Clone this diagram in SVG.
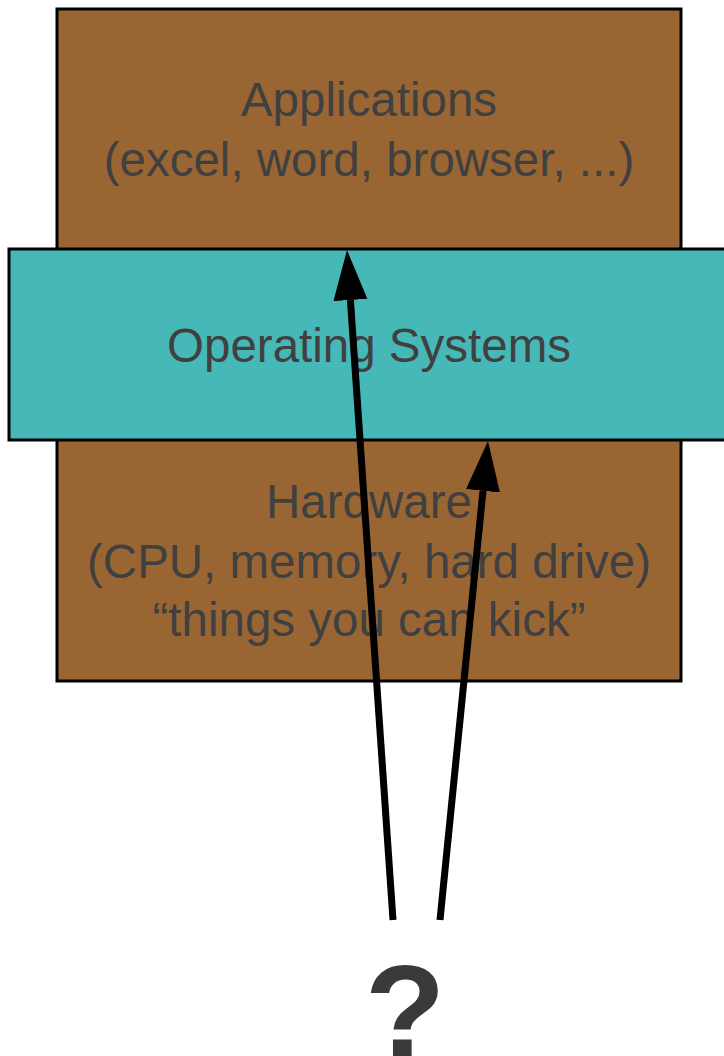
<svg xmlns="http://www.w3.org/2000/svg" width="724" height="1056" viewBox="0 0 724 1056">
<style>
.box{stroke:#000;stroke-width:3}
.brown{fill:#996633}
.teal{fill:#47b8b8}
.lbl{font-family:"Liberation Sans",Arial,sans-serif;font-size:47.5px;fill:#404040;text-anchor:middle}
.q{font-family:"Liberation Sans",Arial,sans-serif;font-size:132px;font-weight:bold;fill:#3a3a38;text-anchor:middle}
.conn{stroke:#000;stroke-width:7;fill:none}
</style>
<defs>
<marker id="ah" markerUnits="userSpaceOnUse" markerWidth="52" markerHeight="36" refX="0" refY="17" orient="auto" viewBox="0 0 52 36">
<path d="M0,0 L50,17 L0,34 z" fill="#000"/>
</marker>
</defs>
<rect width="724" height="1056" fill="#fff"/>
<g id="applications">
<rect class="box brown" x="57" y="9" width="624" height="245"/>
<text class="lbl" x="369" y="116">Applications</text>
<text class="lbl" x="369" y="176">(excel, word, browser, ...)</text>
</g>
<g id="hardware">
<rect class="box brown" x="57" y="436" width="624" height="245"/>
<text class="lbl" x="369" y="518">Hardware</text>
<text class="lbl" x="369" y="578">(CPU, memory, hard drive)</text>
<text class="lbl" x="369" y="636">“things you can kick”</text>
</g>
<g id="os">
<rect class="box teal" x="9" y="249" width="720" height="191"/>
<text class="lbl" x="369" y="362">Operating Systems</text>
</g>
<g id="question">
<text class="q" x="405" y="1057">?</text>
</g>
<g id="connectors">
<line class="conn" x1="393" y1="920" x2="350.4" y2="300" marker-end="url(#ah)"/>
<line class="conn" x1="440" y1="920" x2="483" y2="490.8" marker-end="url(#ah)"/>
</g>
</svg>
